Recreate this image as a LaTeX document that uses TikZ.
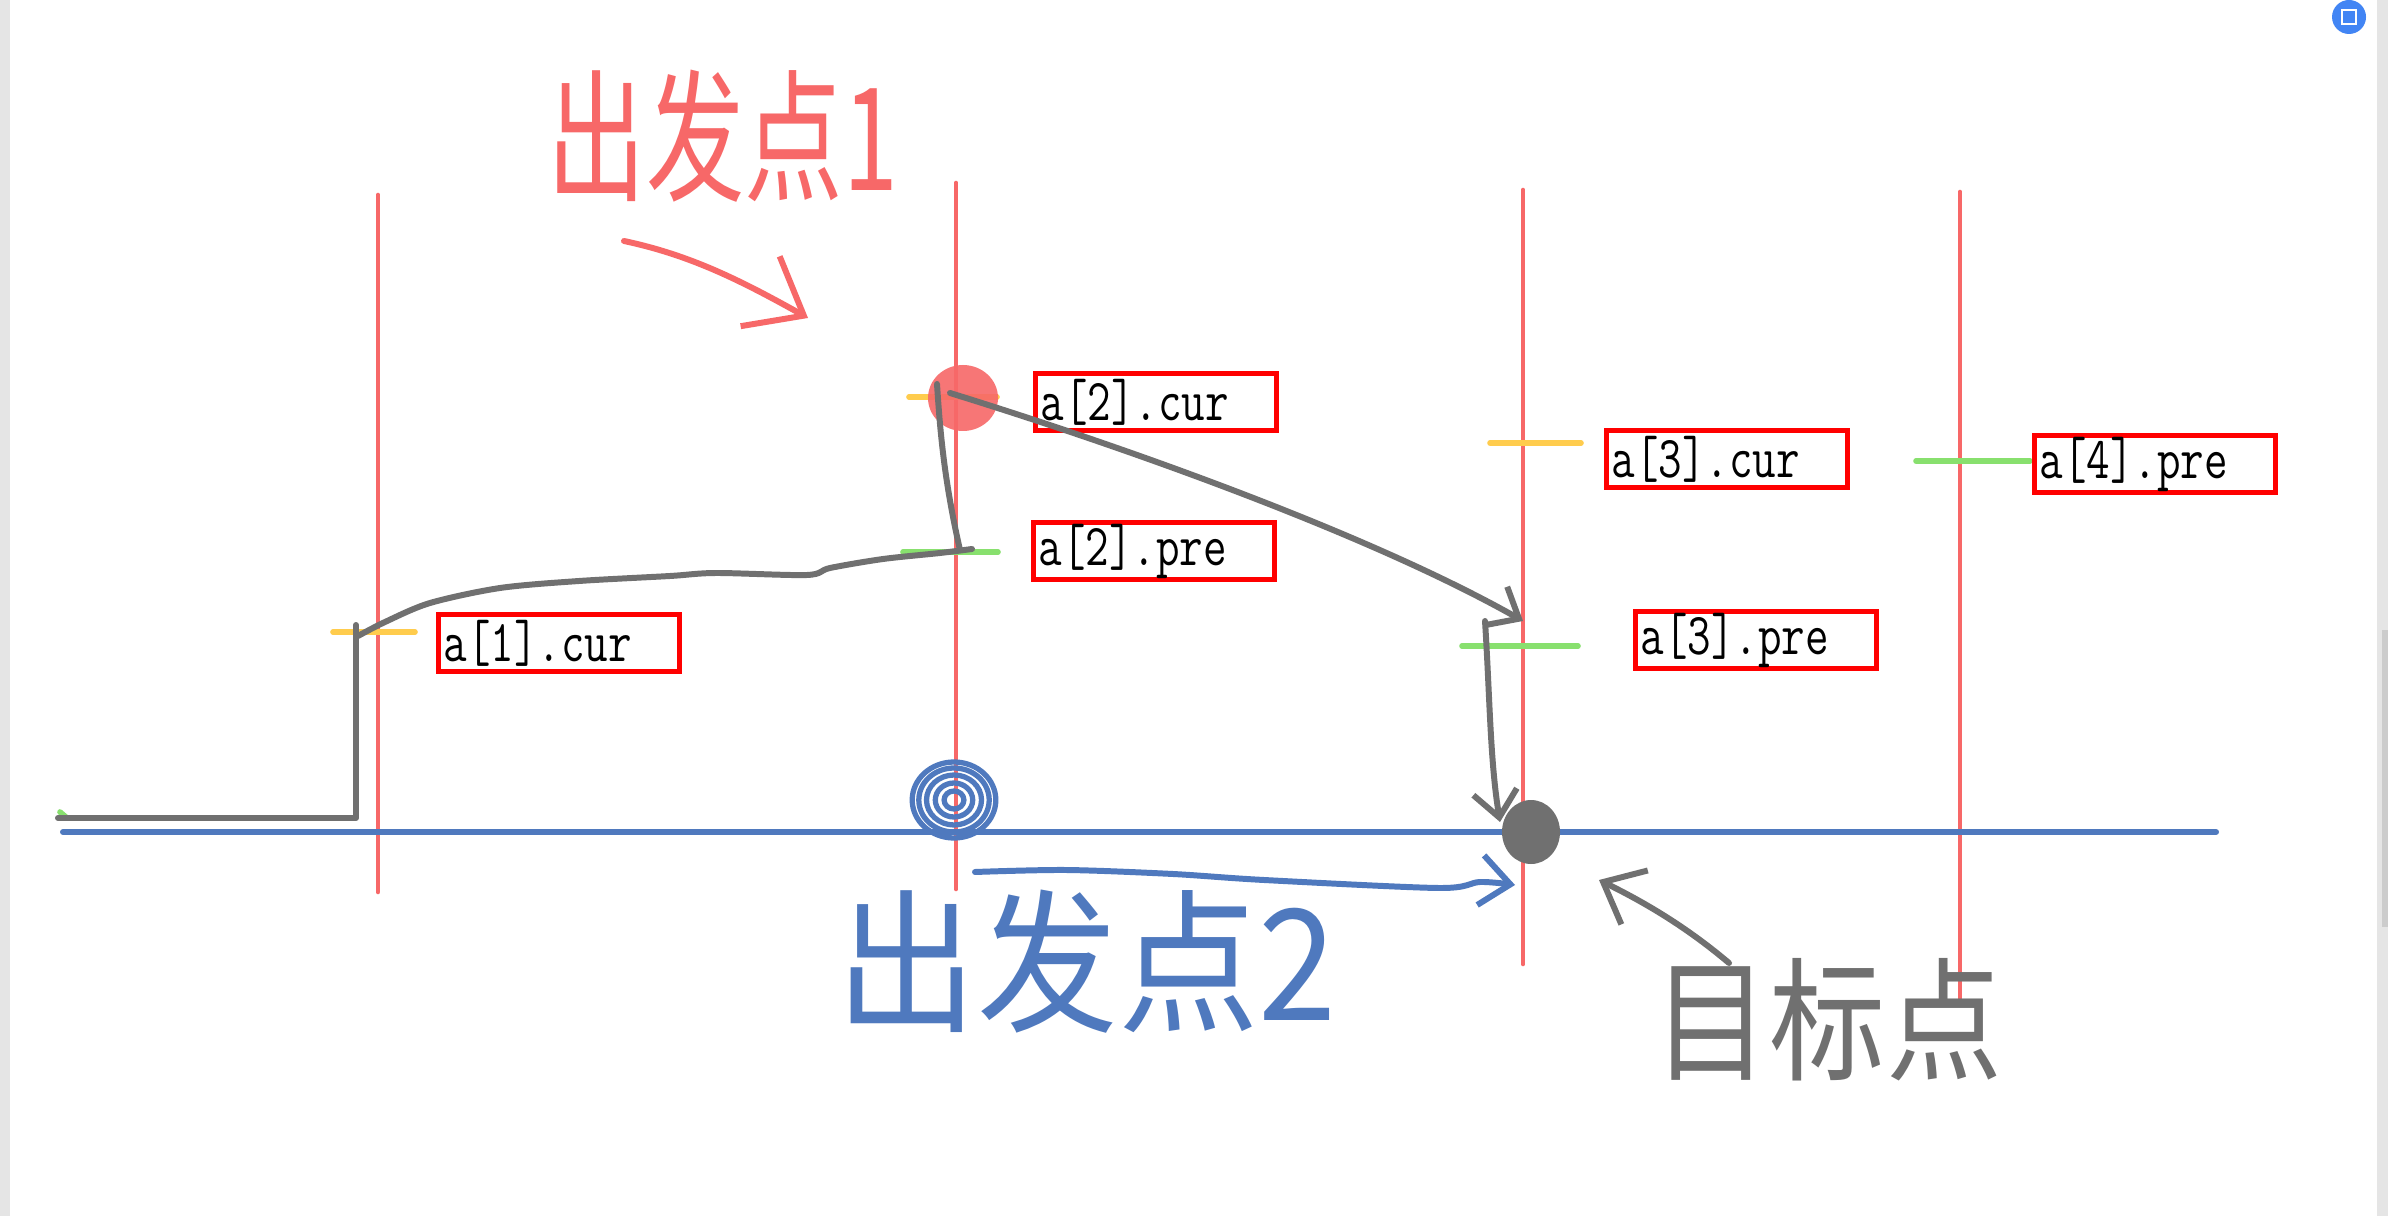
\documentclass[tikz,border=0pt]{standalone}
\usepackage{fontspec}
\newfontfamily\cjk{Noto Sans CJK SC}
\usetikzlibrary{arrows.meta}

\definecolor{guidered}{RGB}{247,104,104}
\definecolor{boxred}{RGB}{255,0,0}
\definecolor{axisblue}{RGB}{79,121,190}
\definecolor{tracegray}{RGB}{112,112,112}
\definecolor{curyellow}{RGB}{255,204,77}
\definecolor{pregreen}{RGB}{136,224,110}
\definecolor{chrome}{RGB}{229,229,229}
\definecolor{iconblue}{RGB}{66,133,244}

\newcommand{\tall}[2][1.3]{\scalebox{1}[#1]{#2}}

\begin{document}
\begin{tikzpicture}[
  x=0.01cm,
  y=-0.01cm,
  line cap=round,
  guide/.style={draw=guidered, line width=1.3pt},
  axis/.style={draw=axisblue, line width=1.7pt},
  trace/.style={draw=tracegray, line width=1.7pt, line join=round},
  trace arrow/.style={trace, -{Straight Barb[length=2.6mm, width=4.4mm]}},
  red arrow/.style={draw=guidered, line width=1.7pt, line join=round,
    -{Straight Barb[length=5mm, width=8mm]}},
  blue arrow/.style={axis, line join=round, -{Straight Barb[length=3mm, width=5mm]}},
  curtick/.style={draw=curyellow, line width=1.6pt},
  pretick/.style={draw=pregreen, line width=1.6pt},
  lab/.style={draw=boxred, line width=1.4pt, anchor=north west, align=left,
    text width=2.31cm, minimum height=0.57cm, inner xsep=0.05cm, inner ysep=0pt,
    font=\fontsize{13}{13}\ttfamily},
  note/.style={inner sep=0pt, font=\cjk\fontsize{#1}{#1}\selectfont}
]
\useasboundingbox (0,0) rectangle (2388,1216);
\fill[white] (0,0) rectangle (2388,1216);
% window edges
\fill[chrome] (0,0) rectangle (10,1216);
\fill[chrome] (2377,0) rectangle (2388,1216);
\fill[black!20] (2382,630) rectangle (2388,927);
\fill[iconblue] (2349,17) circle (17);
\draw[white, line width=0.7pt] (2342,10) rectangle (2356,24);

% array slots
\draw[guide] (378,195) -- (378,892);
\draw[guide] (956,183) -- (956,889);
\draw[guide] (1523,190) -- (1523,964);
\draw[guide] (1960,192) -- (1960,999);
\draw[axis] (63,832) -- (2216,832);

\draw[curtick] (333,632) -- (415,632);
\draw[curtick] (909,397) -- (997,397);
\draw[curtick] (1490,443) -- (1581,443);
\draw[pretick] (903,552) -- (998,552);
\draw[pretick] (1462,646) -- (1578,646);
\draw[pretick] (1916,461) -- (2030,461);
\draw[pretick] (60,812) -- (67,818);

\node[lab] (l1cur) at (436,612) {\tall{a[1].cur}};
\node[lab] (l2cur) at (1033,371) {\tall{a[2].cur}};
\node[lab] (l2pre) at (1031,520) {\tall{a[2].pre}};
\node[lab] (l3cur) at (1604,428) {\tall{a[3].cur}};
\node[lab] (l3pre) at (1633,609) {\tall{a[3].pre}};
\node[lab] (l4pre) at (2032,433) {\tall{a[4].pre}};

% marked points
\fill[guidered, opacity=0.9] (963,398) ellipse (35 and 33);
\coordinate (start1) at (963,398);
\coordinate (start2) at (954,800);
\foreach \r in {9,17,25,32,38} {
  \draw[axis, line width=1.5pt] (start2) ellipse ({\r*1.1} and \r);
}
\fill[tracegray] (1531,832) ellipse (29 and 32);
\coordinate (goal) at (1531,832);

% path of the search
\draw[trace] (58,818) -- (356,818) -- (356,625);
\draw[trace] plot[smooth] coordinates {(358,636) (385,622) (430,603) (500,588)
  (579,581) (670,576) (716,573) (807,575) (830,568) (883,559) (940,553) (972,549)};
\draw[trace] (960,550) .. controls (944,480) and (940,430) .. (937,384);
\coordinate (hit3) at (1523,621);
\coordinate (turn3) at (1485,621);
\draw[trace arrow] (950,393) .. controls (1150,455) and (1380,540) .. (hit3);
\draw[trace arrow] (turn3) .. controls (1490,700) and (1490,760) .. (1500,822);

% notes
\node[note=28, text=guidered] (t1) at (723,136) {\tall[1.45]{出发点1}};
\node[note=40, text=axisblue] (t2) at (1087,962) {\tall[1.1]{出发点2}};
\node[note=33, text=tracegray] (t3) at (1828,1020) {\tall[1.15]{目标点}};
\coordinate (t1end) at (808,318);
\coordinate (t2end) at (1515,885);
\coordinate (t3end) at (1599,880);
\draw[red arrow] (624,241) .. controls (690,255) and (740,280) .. (t1end);
\draw[blue arrow] plot[smooth] coordinates {(975,872) (1066,870) (1173,874)
  (1264,880) (1439,888) (1480,882) (t2end)};
\draw[trace arrow, -{Straight Barb[length=3.5mm, width=6mm]}]
  (1729,963) .. controls (1690,930) and (1650,905) .. (t3end);
\end{tikzpicture}
\end{document}
